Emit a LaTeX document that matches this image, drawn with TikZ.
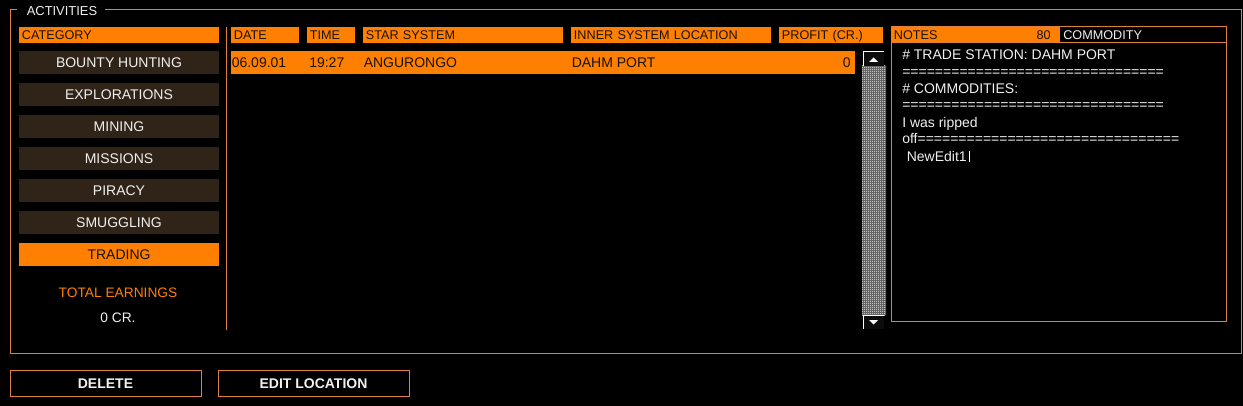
\documentclass[tikz,border=0pt]{standalone}
\usepackage{fontspec}
\setmainfont{Liberation Sans}
\usetikzlibrary{patterns}
\definecolor{edorange}{HTML}{FF8000}
\definecolor{edline}{HTML}{E08040}
\definecolor{btnbrown}{HTML}{302418}
\definecolor{hdrtext}{HTML}{1A1208}
\definecolor{txtwhite}{HTML}{F0F0F0}
\definecolor{scrolldark}{HTML}{0C0C0C}
\definecolor{checkbase}{HTML}{505050}
\pgfdeclarepatternformonly{finechecker}{\pgfpointorigin}{\pgfpoint{1.5pt}{1.5pt}}{\pgfpoint{1.5pt}{1.5pt}}{%
  \pgfpathrectangle{\pgfpointorigin}{\pgfpoint{0.75pt}{0.75pt}}%
  \pgfpathrectangle{\pgfpoint{0.75pt}{0.75pt}}{\pgfpoint{0.75pt}{0.75pt}}%
  \pgfusepath{fill}}
\begin{document}
\begin{tikzpicture}[x=0.75pt,y=-0.75pt,
  frame/.style={draw=edline, line width=0.75pt},
  cat/.style={fill=btnbrown, text=txtwhite, minimum width=150pt, minimum height=17.6pt, inner sep=0pt, font=\fontsize{10.5}{12}\selectfont, text height=7.5pt, text depth=0pt},
  catsel/.style={cat, fill=edorange, text=hdrtext},
  hdr/.style={fill=edorange, text=hdrtext, anchor=west, inner xsep=2pt, inner ysep=0pt, minimum height=12pt, text width=#1, align=left, font=\fontsize{9.5}{10}\selectfont, text height=6.8pt, text depth=0pt},
  cell/.style={anchor=west, inner sep=0pt, text=hdrtext, font=\fontsize{10.5}{12}\selectfont, text height=7.5pt, text depth=0pt},
  note/.style={anchor=west, inner sep=0pt, text=txtwhite, font=\fontsize{10.5}{12}\selectfont, text height=7.5pt, text depth=0pt},
  bigbtn/.style={draw=edline, line width=0.75pt, minimum width=143.25pt, minimum height=19.5pt, inner sep=0pt, text=txtwhite, font=\bfseries\fontsize{10.5}{12}\selectfont, text height=7.5pt, text depth=0pt},
  scrollbox/.style={fill=scrolldark},
  scrolledge/.style={draw=white, line width=0.75pt},
]
% background and bounding box
\fill[black] (0,0) rectangle (1243,406);
\useasboundingbox (0,0) rectangle (1243,406);

% outer frame with title
\node[inner sep=0pt, text=txtwhite, font=\fontsize{9.7}{11}\selectfont, text height=7pt, text depth=0pt] (title) at (62,11) {ACTIVITIES};
\draw[frame] (17,10) -- (10,10) -- (10,353) -- (1241,353) -- (1241,10) -- (105,10);

% category column
\node[hdr=146pt] (category) at (19,35) {CATEGORY};
\node[cat] (bounty) at (119,62.75) {BOUNTY HUNTING};
\node[cat] (explor) at (119,94.75) {EXPLORATIONS};
\node[cat] (mining) at (119,126.75) {MINING};
\node[cat] (missions) at (119,158.75) {MISSIONS};
\node[cat] (piracy) at (119,190.75) {PIRACY};
\node[cat] (smuggling) at (119,222.75) {SMUGGLING};
\node[catsel] (trading) at (119,254.75) {TRADING};
\node[inner sep=0pt, text=edorange, font=\fontsize{10.3}{12}\selectfont, text height=7.5pt, text depth=0pt] (totlabel) at (118,292) {TOTAL EARNINGS};
\node[inner sep=0pt, text=txtwhite, font=\fontsize{10.3}{12}\selectfont, text height=7.5pt, text depth=0pt] (totvalue) at (118,317) {0 CR.};
\draw[frame] (226,27) -- (226,330);

% table headers
\node[hdr=47pt] (hdate) at (231,35) {DATE};
\node[hdr=32pt] (htime) at (307,35) {TIME};
\node[hdr=146pt] (hstar) at (363,35) {STAR SYSTEM};
\node[hdr=146pt] (hinner) at (571,35) {INNER SYSTEM LOCATION};
\node[hdr=74pt] (hprofit) at (779,35) {PROFIT (CR.)};

% data row
\node[fill=edorange, minimum width=468pt, minimum height=17.6pt, inner sep=0pt] (row) at (543,62.5) {};
\node[cell] (rdate) at (231.5,62.5) {06.09.01};
\node[cell] (rtime) at (309,62.5) {19:27};
\node[cell] (rstar) at (363.5,62.5) {ANGURONGO};
\node[cell] (rinner) at (571.5,62.5) {DAHM PORT};
\node[cell, anchor=east] (rprofit) at (851,62.5) {0};

% scrollbar
\fill[checkbase] (862,66) rectangle (886,315);
\fill[pattern=finechecker, pattern color=white] (862,66) rectangle (886,315);
\fill[scrollbox] (863,52) rectangle (884,66);
\draw[scrolledge] (863,66) -- (863,52) -- (884,52);
\fill[white] (869,62) -- (878,62) -- (873.5,57.5) -- cycle;
\fill[scrollbox] (863,315) rectangle (884,329);
\draw[scrolledge] (863,329) -- (863,315) -- (884,315);
\fill[white] (869,320) -- (878,320) -- (873.5,324.5) -- cycle;

% notes panel
\node[hdr=122.75pt] (notes) at (891,35) {NOTES};
\node[inner sep=0pt, anchor=east, text=hdrtext, font=\fontsize{9.5}{10}\selectfont, text height=6.8pt, text depth=0pt] (count) at (1051,35) {80};
\node[inner sep=0pt, anchor=west, text=txtwhite, font=\fontsize{9.5}{10}\selectfont, text height=6.8pt, text depth=0pt] (commodity) at (1063,35) {COMMODITY};
\draw[frame] (891,27) rectangle (1226,321);
\draw[frame] (891,43) -- (1226,43);
\node[note] (n1) at (902,55) {\# TRADE STATION: DAHM PORT};
\node[note] (n2) at (902,72) {================================};
\node[note] (n3) at (902,89) {\# COMMODITIES:};
\node[note] (n4) at (902,105) {================================};
\node[note] (n5) at (902,123) {I was ripped};
\node[note] (n6) at (902,139) {off================================};
\node[note] (n7) at (906.5,157) {NewEdit1};
\draw[white, line width=0.75pt] ([xshift=2pt]n7.east) ++(0,-5.5) -- ++(0,11);

% bottom buttons
\node[bigbtn] (delete) at (105.5,383) {DELETE};
\node[bigbtn] (editloc) at (313.5,383) {EDIT LOCATION};
\end{tikzpicture}
\end{document}
